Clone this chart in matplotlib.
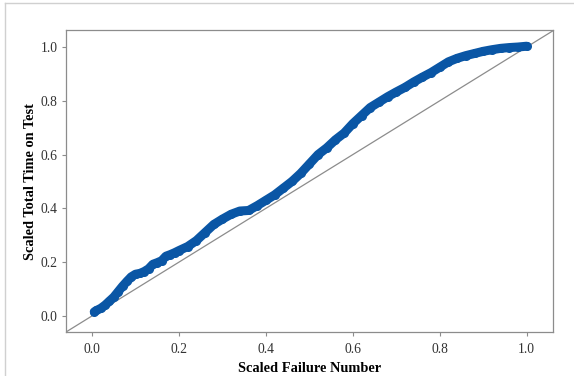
import matplotlib
matplotlib.use("Agg")
from matplotlib import pyplot as plt
from matplotlib.lines import Line2D

# scaled failure number vs scaled total time on test
failure_x = [0.005, 0.01, 0.02, 0.03, 0.04, 0.05, 0.06, 0.07, 0.08, 0.09,
             0.10, 0.11, 0.12, 0.13, 0.14, 0.15, 0.16, 0.17, 0.18, 0.19,
             0.20, 0.22, 0.24, 0.26, 0.28, 0.30, 0.32, 0.34, 0.36, 0.38,
             0.40, 0.42, 0.44, 0.46, 0.48, 0.50, 0.52, 0.54, 0.56, 0.58,
             0.60, 0.62, 0.64, 0.66, 0.68, 0.70, 0.72, 0.74, 0.76, 0.78,
             0.80, 0.82, 0.84, 0.86, 0.88, 0.90, 0.92, 0.94, 0.96, 0.98, 1.00]
ttt_y = [0.015, 0.02, 0.028, 0.04, 0.055, 0.07, 0.09, 0.11, 0.128, 0.145,
         0.155, 0.158, 0.165, 0.175, 0.192, 0.198, 0.205, 0.222, 0.228, 0.235,
         0.243, 0.258, 0.28, 0.31, 0.34, 0.36, 0.378, 0.39, 0.392, 0.41,
         0.43, 0.45, 0.475, 0.50, 0.53, 0.565, 0.60, 0.625, 0.655, 0.68,
         0.715, 0.745, 0.775, 0.795, 0.815, 0.833, 0.85, 0.87, 0.888, 0.905,
         0.925, 0.945, 0.958, 0.968, 0.976, 0.984, 0.99, 0.995, 0.998, 1.0, 1.003]
ticks = [0.0, 0.2, 0.4, 0.6, 0.8, 1.0]

plt.rcParams['font.family'] = ['Liberation Serif', 'DejaVu Serif']

fig = plt.figure(figsize=(5.74, 3.76), dpi=100)
ax = fig.add_axes([0.115, 0.117, 0.848, 0.803])

# light outer frame (left and top edges only visible)
fig.add_artist(Line2D([5/574, 5/574], [0, 1 - 3/376], transform=fig.transFigure,
                      color='#d0d0d0', lw=1))
fig.add_artist(Line2D([5/574, 1], [1 - 3/376, 1 - 3/376], transform=fig.transFigure,
                      color='#d0d0d0', lw=1))

ax.axline((0, 0), slope=1, color='#8c8c8c', lw=0.9, zorder=1)
ax.plot(failure_x, ttt_y, color='#0a56a5', lw=6.5, solid_capstyle='round',
        solid_joinstyle='round', marker='o', ms=6.5, mew=0, zorder=2)

ax.set_xlim(-0.06, 1.06)
ax.set_ylim(-0.06, 1.063)
ax.set_xticks(ticks)
ax.set_yticks(ticks)
ax.set_xticklabels(["{:.1f}".format(t) for t in ticks])
ax.set_yticklabels(["{:.1f}".format(t) for t in ticks])
ax.tick_params(direction='out', length=3, width=0.8, color='#8c8c8c',
               labelsize=9.8, labelcolor='#333333', pad=3)
ax.tick_params(axis='x', pad=5)
for s in ax.spines.values():
    s.set_color('#8c8c8c')
    s.set_linewidth(0.9)

ax.set_xlabel("Scaled Failure Number", fontsize=10.4, fontweight='bold', labelpad=4)
ax.set_ylabel("Scaled Total Time on Test", fontsize=10.4, fontweight='bold', labelpad=3)

fig.savefig("out.png", dpi=100)
